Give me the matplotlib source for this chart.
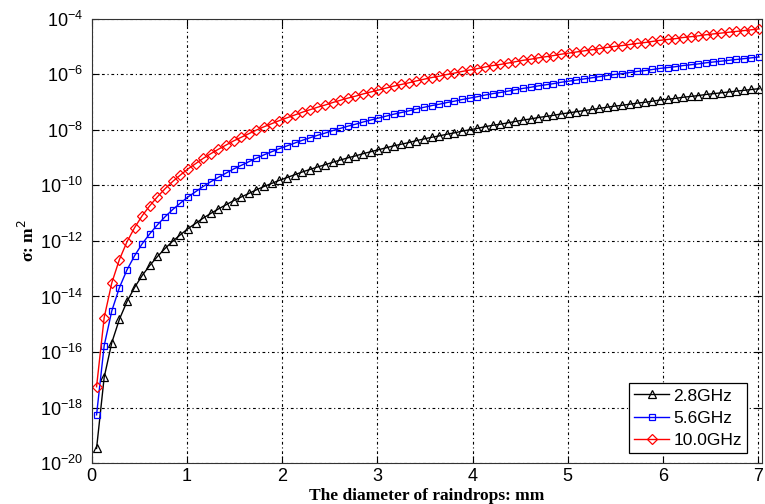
import numpy as np
import matplotlib.pyplot as plt

# raindrop diameter [mm]
diameter = [0.05, 0.13, 0.21, 0.29, 0.37, 0.45, 0.53, 0.61, 0.69, 0.77, 0.85, 0.93,
            1.01, 1.09, 1.17, 1.25, 1.33, 1.41, 1.49, 1.57, 1.65, 1.73, 1.81, 1.89,
            1.97, 2.05, 2.13, 2.21, 2.29, 2.37, 2.45, 2.53, 2.61, 2.69, 2.77, 2.85,
            2.93, 3.01, 3.09, 3.17, 3.25, 3.33, 3.41, 3.49, 3.57, 3.65, 3.73, 3.81,
            3.89, 3.97, 4.05, 4.13, 4.21, 4.29, 4.37, 4.45, 4.53, 4.61, 4.69, 4.77,
            4.85, 4.93, 5.01, 5.09, 5.17, 5.25, 5.33, 5.41, 5.49, 5.57, 5.65, 5.73,
            5.81, 5.89, 5.97, 6.05, 6.13, 6.21, 6.29, 6.37, 6.45, 6.53, 6.61, 6.69,
            6.77, 6.85, 6.93, 7.01]

# log10 of backscatter cross-section [m^2]
log_s28 = [-19.47, -16.91, -15.66, -14.82, -14.18, -13.67, -13.24, -12.88, -12.56, -12.27,
           -12.01, -11.78, -11.56, -11.37, -11.18, -11.01, -10.85, -10.70, -10.55, -10.42,
           -10.29, -10.16, -10.04, -9.93, -9.82, -9.72, -9.62, -9.52, -9.43, -9.34,
           -9.26, -9.17, -9.09, -9.01, -8.94, -8.86, -8.79, -8.72, -8.65, -8.58,
           -8.52, -8.46, -8.39, -8.33, -8.27, -8.22, -8.16, -8.11, -8.05, -8.00,
           -7.95, -7.89, -7.84, -7.80, -7.75, -7.70, -7.65, -7.61, -7.56, -7.52,
           -7.48, -7.43, -7.39, -7.35, -7.31, -7.27, -7.23, -7.19, -7.15, -7.12,
           -7.08, -7.04, -7.01, -6.97, -6.93, -6.90, -6.87, -6.83, -6.80, -6.77,
           -6.73, -6.70, -6.67, -6.64, -6.61, -6.58, -6.55, -6.52]
log_s56 = [-18.26, -15.77, -14.52, -13.68, -13.04, -12.53, -12.10, -11.74, -11.42, -11.13,
           -10.87, -10.64, -10.42, -10.23, -10.04, -9.87, -9.71, -9.56, -9.41, -9.28,
           -9.15, -9.02, -8.90, -8.79, -8.68, -8.58, -8.48, -8.38, -8.29, -8.20,
           -8.12, -8.03, -7.95, -7.87, -7.80, -7.72, -7.65, -7.58, -7.51, -7.44,
           -7.38, -7.32, -7.25, -7.19, -7.13, -7.08, -7.02, -6.97, -6.91, -6.86,
           -6.81, -6.75, -6.70, -6.66, -6.61, -6.56, -6.51, -6.47, -6.42, -6.38,
           -6.34, -6.29, -6.25, -6.21, -6.17, -6.13, -6.09, -6.05, -6.01, -5.98,
           -5.94, -5.90, -5.87, -5.83, -5.79, -5.76, -5.73, -5.69, -5.66, -5.63,
           -5.59, -5.56, -5.53, -5.50, -5.47, -5.44, -5.41, -5.38]
log_s100 = [-17.25, -14.76, -13.51, -12.67, -12.03, -11.52, -11.09, -10.73, -10.41, -10.12,
            -9.86, -9.63, -9.41, -9.22, -9.03, -8.86, -8.70, -8.55, -8.40, -8.27,
            -8.14, -8.01, -7.89, -7.78, -7.67, -7.57, -7.47, -7.37, -7.28, -7.19,
            -7.11, -7.02, -6.94, -6.86, -6.79, -6.71, -6.64, -6.57, -6.50, -6.43,
            -6.37, -6.31, -6.24, -6.18, -6.12, -6.07, -6.01, -5.96, -5.90, -5.85,
            -5.80, -5.74, -5.69, -5.65, -5.60, -5.55, -5.50, -5.46, -5.41, -5.37,
            -5.33, -5.28, -5.24, -5.20, -5.16, -5.12, -5.08, -5.04, -5.00, -4.97,
            -4.93, -4.89, -4.86, -4.82, -4.78, -4.75, -4.72, -4.68, -4.65, -4.62,
            -4.58, -4.55, -4.52, -4.49, -4.46, -4.43, -4.40, -4.37]

labels = ["2.8GHz", "5.6GHz", "10.0GHz"]

plt.rcParams["font.family"] = ["Liberation Sans", "DejaVu Sans"]

fig = plt.figure(figsize=(7.65, 5.04), dpi=100)
ax = fig.add_axes([0.120, 0.081, 0.876, 0.882])

ax.plot(diameter, 10 ** np.array(log_s28), "-^", color="black", lw=1,
        markersize=6, markerfacecolor="none", markeredgewidth=0.9, label=labels[0])
ax.plot(diameter, 10 ** np.array(log_s56), "-s", color="blue", lw=1,
        markersize=5, markerfacecolor="none", markeredgewidth=0.9, label=labels[1])
ax.plot(diameter, 10 ** np.array(log_s100), "-D", color="red", lw=1,
        markersize=5, markerfacecolor="none", markeredgewidth=0.9, label=labels[2])

ax.set_yscale("log")
ax.set_xlim(0, 7.04)
ax.set_ylim(1e-20, 1e-4)
ax.set_xticks(range(8))
ax.set_yticks([10.0 ** e for e in range(-20, -3, 2)])
ax.yaxis.set_minor_locator(plt.NullLocator())
ax.tick_params(direction="in", top=True, right=True, labelsize=13, length=5)
ax.tick_params(axis="y", pad=6)

ax.grid(True, color="black", linestyle=(0, (2.5, 2.5, 1, 2.5)), linewidth=0.8)
for s in ax.spines.values():
    s.set_color("#333333")

ax.set_xlabel("The diameter of raindrops: mm", family="Liberation Serif",
              fontweight="bold", fontsize=12.5, labelpad=2)
ax.set_ylabel("σ: m$^2$", family="Liberation Serif", fontweight="bold",
              fontsize=12.5, labelpad=2)

leg = ax.legend(loc="lower right", fontsize=12.5, fancybox=False, framealpha=1,
                edgecolor="black", handlelength=2.0, borderpad=0.3,
                labelspacing=0.4, handletextpad=0.25, borderaxespad=0,
                bbox_to_anchor=(0.978, 0.023))
leg.get_frame().set_linewidth(0.9)

plt.savefig("out.png", dpi=100)
